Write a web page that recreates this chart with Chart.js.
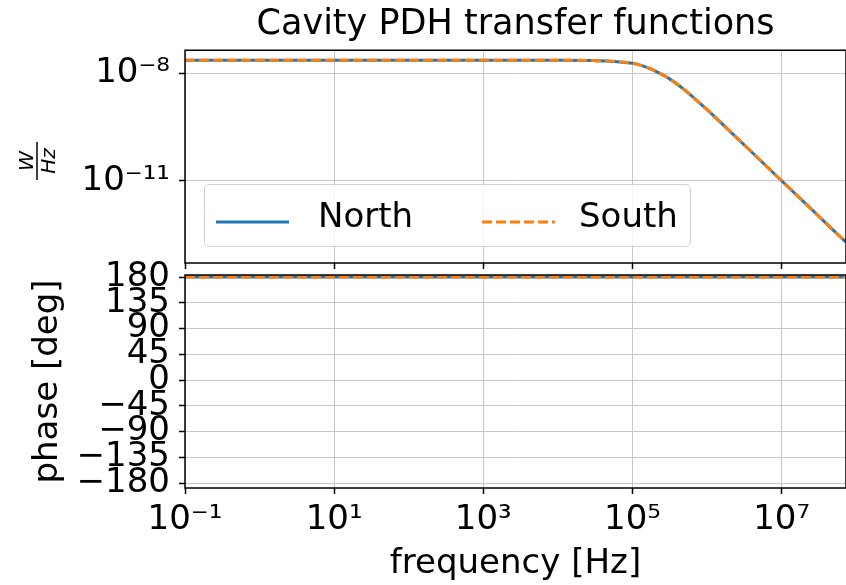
<!DOCTYPE html>
<html>
<head>
<meta charset="utf-8">
<script src="https://cdn.jsdelivr.net/npm/chart.js@4/dist/chart.umd.min.js"></script>
<style>
  body { margin: 0; background: #fff; }
  #wrap { position: relative; width: 846px; height: 585px; overflow: hidden; font-family: 'DejaVu Sans', sans-serif; }
  #magCanvas { position: absolute; left: 0; top: 0; }
  #phaseCanvas { position: absolute; left: 0; top: 240px; }
  #legend { position: absolute; left: 204px; top: 184px; width: 485px; height: 61px;
            border: 1px solid #d0d0d0; border-radius: 5px; background: rgba(255,255,255,0.8); }
  #legend .handle { position: absolute; top: 25px; }
  #legend .txt { position: absolute; top: 13px; font-size: 34px; line-height: 34px; color: #000; }
</style>
</head>
<body>
<div id="wrap">
  <canvas id="magCanvas" width="846" height="300"></canvas>
  <canvas id="phaseCanvas" width="846" height="345"></canvas>
  <div id="legend"></div>
</div>
<script>
// frequency points
const freq = [0.1, 1, 10, 100, 1e3, 1e4, 3e4, 1e5, 1.5e5, 2e5, 3e5, 5e5, 7e5, 1e6, 2e6, 5e6, 1e7, 2e7, 5e7, 7.3e7];

// magnitude [W/Hz]
const northMag = [2.37e-8, 2.37e-8, 2.37e-8, 2.37e-8, 2.37e-8, 2.36e-8, 2.32e-8, 1.95e-8, 1.55e-8, 1.2e-8,
                  7.6e-9, 3.5e-9, 1.9e-9, 9.8e-10, 2.5e-10, 4.0e-11, 1.0e-11, 2.5e-12, 4.0e-13, 1.9e-13];
const southMag = [2.37e-8, 2.37e-8, 2.37e-8, 2.37e-8, 2.37e-8, 2.36e-8, 2.32e-8, 1.95e-8, 1.55e-8, 1.2e-8,
                  7.6e-9, 3.5e-9, 1.9e-9, 9.8e-10, 2.5e-10, 4.0e-11, 1.0e-11, 2.5e-12, 4.0e-13, 1.9e-13];

// phase [deg]
const northPhase = [180, 180, 180, 180, 180, 180, 180, 180, 180, 180, 180, 180, 180, 180, 180, 180, 180, 180, 180, 180];
const southPhase = [180, 180, 180, 180, 180, 180, 180, 180, 180, 180, 180, 180, 180, 180, 180, 180, 180, 180, 180, 180];

const freqTicks = [1e-1, 1e1, 1e3, 1e5, 1e7];
const freqTickLabels = ['10⁻¹', '10¹', '10³', '10⁵', '10⁷'];
const magTicks = [1e-11, 1e-8];
const magTickLabels = ['10⁻¹¹', '10⁻⁸'];
const phaseTicks = [-180, -135, -90, -45, 0, 45, 90, 135, 180];
const phaseTickLabels = ['−180', '−135', '−90', '−45', '0', '45', '90', '135', '180'];

const BLUE = '#1f77b4';
const ORANGE = '#ff7f0e';

Chart.defaults.font.family = "'DejaVu Sans', sans-serif";
Chart.defaults.font.size = 34;
Chart.defaults.color = '#000';

function points(ys) {
  return freq.map((f, i) => ({ x: f, y: ys[i] }));
}

// higher order is drawn first, so South (order 0) ends up on top of North
function series(label, ys, color, dash, order) {
  return {
    label: label,
    data: points(ys),
    borderColor: color,
    backgroundColor: color,
    borderWidth: 3,
    borderDash: dash,
    pointRadius: 0,
    cubicInterpolationMode: 'monotone',
    fill: false,
    order: order
  };
}

const gridStyle = { color: '#c8c8c8', lineWidth: 1, tickColor: '#000', tickLength: 6, tickWidth: 1.5 };

// matplotlib-like box around the axes
const frame = {
  id: 'frame',
  afterDatasetsDraw(chart) {
    const { ctx, chartArea: a } = chart;
    ctx.save();
    ctx.strokeStyle = '#000';
    ctx.lineWidth = 1.5;
    ctx.strokeRect(a.left, a.top, a.right - a.left, a.bottom - a.top);
    ctx.restore();
  }
};

// W / Hz fraction as y label of the top panel
const unitLabel = {
  id: 'unitLabel',
  afterDraw(chart) {
    const ctx = chart.ctx;
    ctx.save();
    ctx.translate(37, 161);
    ctx.rotate(-Math.PI / 2);
    ctx.fillStyle = '#000';
    ctx.font = 'italic 20px "DejaVu Sans"';
    ctx.textAlign = 'center';
    ctx.textBaseline = 'alphabetic';
    ctx.fillText('W', 0, -4);
    ctx.fillText('Hz', 0, 18);
    ctx.fillRect(-19, -0.75, 38, 1.5);
    ctx.restore();
  }
};

const magDatasets = [
  series('North', northMag, BLUE, [], 1),
  series('South', southMag, ORANGE, [10, 4], 0)
];

new Chart(document.getElementById('magCanvas'), {
  type: 'line',
  data: { datasets: magDatasets },
  options: {
    responsive: false,
    animation: false,
    layout: { padding: 0 },
    scales: {
      x: {
        type: 'logarithmic',
        min: 0.1,
        max: 7.3e7,
        bounds: 'data',
        grid: gridStyle,
        border: { display: false },
        ticks: { display: false },
        afterBuildTicks: s => { s.ticks = freqTicks.map(v => ({ value: v })); },
        afterFit: s => { s.height = 37; }
      },
      y: {
        type: 'logarithmic',
        min: 4.95e-14,
        max: 4.52e-8,
        bounds: 'data',
        grid: gridStyle,
        border: { display: false },
        ticks: { padding: 9, autoSkip: false, callback: (v, i) => magTickLabels[i] },
        afterBuildTicks: s => { s.ticks = magTicks.map(v => ({ value: v })); },
        afterFit: s => { s.width = 185; }
      }
    },
    plugins: {
      legend: { display: false },
      tooltip: { enabled: false },
      title: {
        display: true,
        text: 'Cavity PDH transfer functions',
        font: { size: 35, weight: 'normal', lineHeight: 1.15 },
        color: '#000',
        padding: { top: 5, bottom: 5 },
        fullSize: false
      }
    }
  },
  plugins: [frame, unitLabel]
});

new Chart(document.getElementById('phaseCanvas'), {
  type: 'line',
  data: {
    datasets: [
      series('North', northPhase, BLUE, [], 1),
      series('South', southPhase, ORANGE, [10, 4], 0)
    ]
  },
  options: {
    responsive: false,
    animation: false,
    layout: { padding: { top: 35, left: 0, right: 0, bottom: 0 } },
    scales: {
      x: {
        type: 'logarithmic',
        min: 0.1,
        max: 7.3e7,
        bounds: 'data',
        grid: gridStyle,
        border: { display: false },
        ticks: { padding: 6, autoSkip: false, maxRotation: 0, callback: (v, i) => freqTickLabels[i] },
        afterBuildTicks: s => { s.ticks = freqTicks.map(v => ({ value: v })); },
        title: { display: true, text: 'frequency [Hz]', font: { size: 34 }, color: '#000', padding: { top: 0, bottom: 0 } },
        afterFit: s => { s.height = 97; }
      },
      y: {
        type: 'linear',
        min: -188.7,
        max: 183.5,
        bounds: 'data',
        grid: gridStyle,
        border: { display: false },
        ticks: { padding: 9, autoSkip: false, callback: (v, i) => phaseTickLabels[i] },
        afterBuildTicks: s => { s.ticks = phaseTicks.map(v => ({ value: v })); },
        title: { display: true, text: 'phase [deg]', font: { size: 34 }, color: '#000', padding: { top: 28, bottom: 0 } },
        afterFit: s => { s.width = 185; }
      }
    },
    plugins: {
      legend: { display: false },
      tooltip: { enabled: false }
    }
  },
  plugins: [frame]
});

// legend box inside the top panel
const legend = document.getElementById('legend');
const legendPos = [{ handle: 11, text: 113 }, { handle: 277, text: 374 }];
magDatasets.forEach((ds, i) => {
  const dash = ds.borderDash.length ? ` stroke-dasharray="${ds.borderDash.join(' ')}"` : '';
  const h = document.createElement('div');
  h.className = 'handle';
  h.style.left = legendPos[i].handle + 'px';
  h.innerHTML = `<svg width="73" height="6"><line x1="0" y1="3" x2="73" y2="3" stroke="${ds.borderColor}" stroke-width="3"${dash}/></svg>`;
  legend.appendChild(h);
  const t = document.createElement('span');
  t.className = 'txt';
  t.style.left = legendPos[i].text + 'px';
  t.textContent = ds.label;
  legend.appendChild(t);
});
</script>
</body>
</html>
